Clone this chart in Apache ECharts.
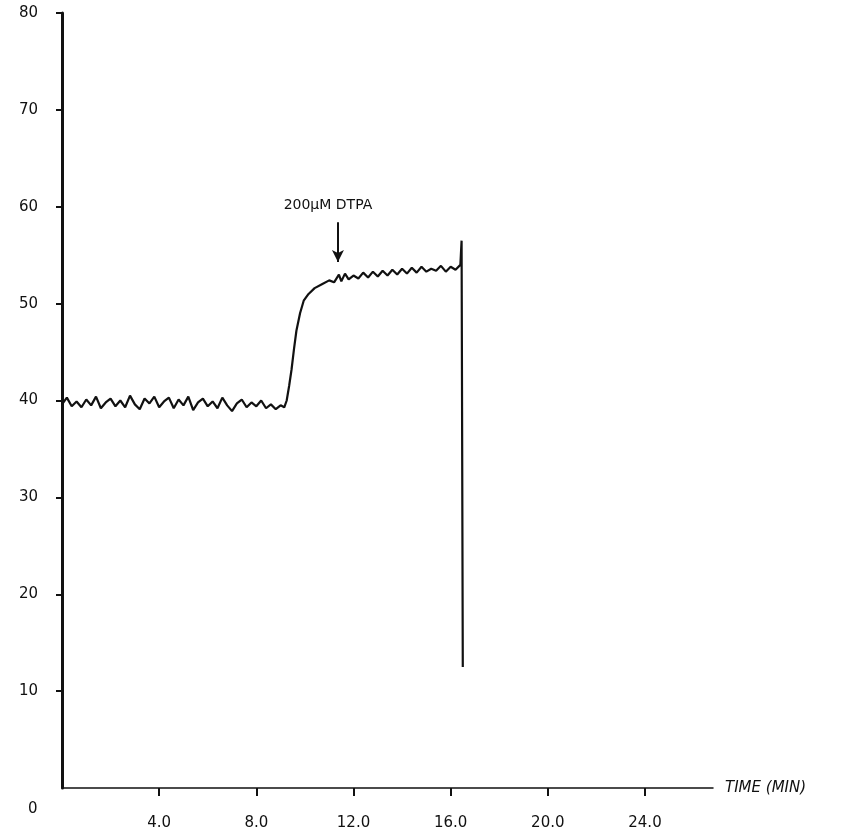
<!DOCTYPE html>
<html>
<head>
<meta charset="utf-8">
<script src="https://cdn.jsdelivr.net/npm/echarts@6/dist/echarts.min.js"></script>
<style>html,body{margin:0;padding:0;background:#fff}#c{width:849px;height:840px}</style>
</head>
<body>
<div id="c"></div>
<script>
// time (min)
var times = [0.0,0.2,0.4,0.6,0.8,1.0,1.2,1.4,1.6,1.8,2.0,2.2,2.4,2.6,2.8,3.0,3.2,3.4,3.6,3.8,4.0,4.2,4.4,4.6,4.8,5.0,5.2,5.4,5.6,5.8,6.0,6.2,6.4,6.6,6.8,7.0,7.2,7.4,7.6,7.8,8.0,8.2,8.4,8.6,8.8,9.0,9.15,
  9.25,9.35,9.45,9.55,9.65,9.8,9.95,10.15,10.4,10.7,11.0,11.2,11.4,11.5,11.65,11.8,12.0,12.2,12.4,12.6,12.8,13.0,13.2,13.4,13.6,13.8,14.0,14.2,14.4,14.6,14.8,15.0,15.2,15.4,15.6,15.8,16.0,16.2,16.4,16.45,16.5];
// signal values
var signal = [39.6,40.3,39.4,39.9,39.3,40.1,39.5,40.4,39.2,39.8,40.2,39.4,40.0,39.3,40.5,39.6,39.1,40.2,39.7,40.4,39.3,39.9,40.3,39.2,40.1,39.5,40.4,39.0,39.8,40.2,39.4,39.9,39.2,40.3,39.5,38.9,39.7,40.1,39.3,39.8,39.4,40.0,39.2,39.6,39.1,39.5,39.3,
  40.0,41.5,43.2,45.3,47.2,49.0,50.3,51.0,51.6,52.0,52.4,52.2,53.0,52.3,53.1,52.5,52.9,52.6,53.2,52.7,53.3,52.8,53.4,52.9,53.5,53.0,53.6,53.1,53.7,53.2,53.8,53.3,53.6,53.4,53.9,53.3,53.8,53.5,54.0,56.5,12.5];
var xTicks = [4, 8, 12, 16, 20, 24];
var yTicks = [10, 20, 30, 40, 50, 60, 70, 80];
var annotation = {text: '200\u03bcM DTPA', time: 11.36, from: 58.4, to: 54.3};

var data = times.map(function (t, i) { return [t, signal[i]]; });
var font = 'DejaVu Sans';
var chart = echarts.init(document.getElementById('c'), null, {renderer: 'canvas'});
chart.setOption({
  animation: false,
  backgroundColor: '#fff',
  grid: {left: 62, right: 136, top: 13, bottom: 52, containLabel: false},
  xAxis: {
    type: 'value', min: 0, max: 26.8, interval: 4,
    name: 'TIME (MIN)', nameLocation: 'end', nameGap: 12,
    nameTextStyle: {fontFamily: font, fontSize: 15, fontStyle: 'italic', color: '#111', verticalAlign: 'middle'},
    axisLine: {show: true, lineStyle: {color: '#111', width: 1.5}},
    axisTick: {show: true, length: 8, lineStyle: {color: '#111', width: 2}, customValues: xTicks},
    axisLabel: {customValues: xTicks, margin: 28, fontFamily: font, fontSize: 15, color: '#111',
      formatter: function (v) { return v.toFixed(1); }},
    splitLine: {show: false}
  },
  yAxis: {
    type: 'value', min: 0, max: 80, interval: 10,
    axisLine: {show: true, lineStyle: {color: '#111', width: 3}},
    axisTick: {show: true, length: 6, lineStyle: {color: '#111', width: 2}, customValues: yTicks},
    axisLabel: {customValues: yTicks, margin: 24, fontFamily: font, fontSize: 15, color: '#111'},
    splitLine: {show: false}
  },
  graphic: [{type: 'text', left: 28, top: 802, style: {text: '0', font: '15px DejaVu Sans', fill: '#111'}}],
  series: [{
    type: 'line', data: data, showSymbol: false, symbol: 'none',
    lineStyle: {color: '#111', width: 2.2},
    markLine: {
      silent: true, symbol: ['none', 'arrow'], symbolSize: [9, 12],
      lineStyle: {color: '#111', width: 2, type: 'solid'},
      label: {show: true, position: 'start', formatter: annotation.text, fontFamily: font, fontSize: 14, color: '#111', distance: 10, padding: [0, 20, 0, 0]},
      data: [[{coord: [annotation.time, annotation.from]}, {coord: [annotation.time, annotation.to]}]]
    }
  }]
});
</script>
</body>
</html>
